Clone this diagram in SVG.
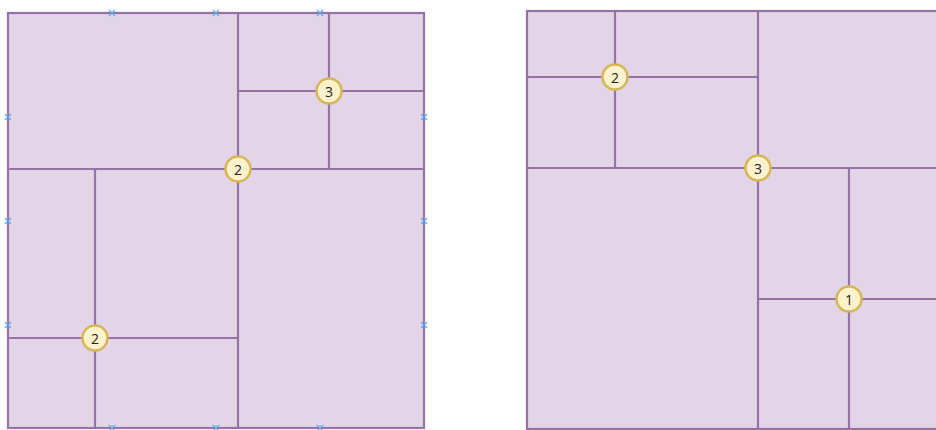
<svg xmlns="http://www.w3.org/2000/svg" width="936" height="430" viewBox="0 0 936 430">
<style>
.sq{fill:#e1d5e7;stroke:#9673a6;stroke-width:2.2}
.ln{stroke:#9673a6;stroke-width:2.2;fill:none}
.bd{fill:#fff2cc;stroke:#d6b656;stroke-width:2.5}
.bt{font-family:"Open Sans","Liberation Sans",sans-serif;font-size:14px;fill:#222;text-anchor:middle;dominant-baseline:central}
.mk{stroke:#5aaee8;stroke-width:1.3;fill:none}
</style>
<defs>
<path id="x" class="mk" d="M-3,-3L3,3M-3,3L3,-3"/>
</defs>
<rect width="936" height="430" fill="#fff"/>
<g id="left-square">
<rect class="sq" x="8" y="13" width="416" height="415"/>
</g>
<g id="right-square">
<rect class="sq" x="527" y="11" width="480" height="418"/>
</g>
<g id="connectors">
<line class="ln" x1="238" y1="13" x2="238" y2="428"/>
<line class="ln" x1="8" y1="169" x2="424" y2="169"/>
<line class="ln" x1="238" y1="91" x2="424" y2="91"/>
<line class="ln" x1="329" y1="13" x2="329" y2="169"/>
<line class="ln" x1="95" y1="169" x2="95" y2="428"/>
<line class="ln" x1="8" y1="338" x2="238" y2="338"/>
<line class="ln" x1="758" y1="11" x2="758" y2="429"/>
<line class="ln" x1="527" y1="168" x2="1007" y2="168"/>
<line class="ln" x1="527" y1="77" x2="758" y2="77"/>
<line class="ln" x1="615" y1="11" x2="615" y2="168"/>
<line class="ln" x1="849" y1="168" x2="849" y2="429"/>
<line class="ln" x1="758" y1="299" x2="1007" y2="299"/>
</g>
<g id="markers">
<use href="#x" x="112" y="13"/><use href="#x" x="216" y="13"/><use href="#x" x="320" y="13"/>
<use href="#x" x="112" y="428"/><use href="#x" x="216" y="428"/><use href="#x" x="320" y="428"/>
<use href="#x" x="8" y="117"/><use href="#x" x="8" y="221"/><use href="#x" x="8" y="325"/>
<use href="#x" x="424" y="117"/><use href="#x" x="424" y="221"/><use href="#x" x="424" y="325"/>
</g>
<g id="badge-3-left"><circle class="bd" cx="329" cy="91" r="12.5"/><text class="bt" x="329" y="91">3</text></g>
<g id="badge-2-center"><circle class="bd" cx="238" cy="169" r="12.5"/><text class="bt" x="238" y="169">2</text></g>
<g id="badge-2-bottom"><circle class="bd" cx="95" cy="338" r="12.5"/><text class="bt" x="95" y="338">2</text></g>
<g id="badge-2-right"><circle class="bd" cx="615" cy="77" r="12.5"/><text class="bt" x="615" y="77">2</text></g>
<g id="badge-3-right"><circle class="bd" cx="758" cy="168" r="12.5"/><text class="bt" x="758" y="168">3</text></g>
<g id="badge-1-right"><circle class="bd" cx="849" cy="299" r="12.5"/><text class="bt" x="849" y="299">1</text></g>
</svg>
